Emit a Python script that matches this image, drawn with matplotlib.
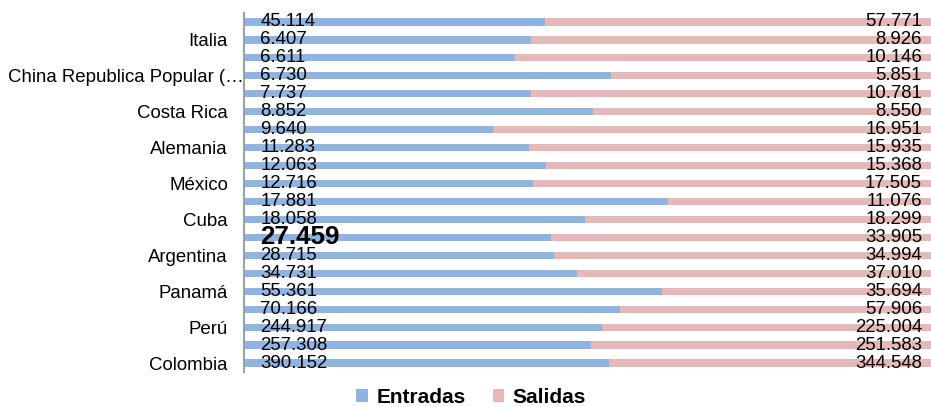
import matplotlib
matplotlib.use('Agg')
import matplotlib.pyplot as plt
from matplotlib.transforms import ScaledTranslation
import numpy as np

plt.rcParams['font.family'] = ['Liberation Sans', 'DejaVu Sans']

# top to bottom; only every other category name is shown in the original
categorias = ['', 'Italia', '', 'China Republica Popular (…', '', 'Costa Rica', '',
              'Alemania', '', 'México', '', 'Cuba', '', 'Argentina', '', 'Panamá',
              '', 'Perú', '', 'Colombia']
entradas = [45114, 6407, 6611, 6730, 7737, 8852, 9640, 11283, 12063, 12716,
            17881, 18058, 27459, 28715, 34731, 55361, 70166, 244917, 257308, 390152]
salidas = [57771, 8926, 10146, 5851, 10781, 8550, 16951, 15935, 15368, 17505,
           11076, 18299, 33905, 34994, 37010, 35694, 57906, 225004, 251583, 344548]
destacado = 27459

azul = '#8EB4E3'
rosa = '#E6B9B8'


def fmt(v):
    return f'{v:,}'.replace(',', '.')


ent = np.array(entradas, dtype=float)
sal = np.array(salidas, dtype=float)
tot = ent + sal
pe = ent / tot
ps = sal / tot
y = np.arange(len(categorias))

fig = plt.figure(figsize=(9.31, 4.07), dpi=100)
ax = fig.add_axes([0.262, 0.086, 0.738, 0.882])

ax.barh(y, pe, height=0.4, color=azul, label='Entradas')
ax.barh(y, ps, left=pe, height=0.4, color=rosa, label='Salidas')

for i in range(len(y)):
    if entradas[i] == destacado:
        ax.text(0.024, y[i], fmt(entradas[i]), ha='left', va='center',
                fontsize=18.7, fontweight='bold')
    else:
        ax.text(0.024, y[i], fmt(entradas[i]), ha='left', va='center', fontsize=13.4)
    ax.text(0.987, y[i], fmt(salidas[i]), ha='right', va='center', fontsize=13.4)

ax.set_xlim(0, 1)
ax.set_ylim(len(y) - 0.5, -0.5)
ax.set_yticks(y)
ax.set_yticklabels(categorias, fontsize=13.4)
ax.tick_params(axis='y', length=0, pad=11.5)
ax.set_xticks([])
for s in ['top', 'right', 'bottom']:
    ax.spines[s].set_visible(False)
ax.spines['left'].set_color('#A0A0A0')
ax.spines['left'].set_linewidth(1.5)

# the truncated long label runs up to the axis line, as in the original
lbl = ax.get_yticklabels()[3]
lbl.set_transform(lbl.get_transform() + ScaledTranslation(0.16, 0, fig.dpi_scale_trans))

fig.legend(loc='center', bbox_to_anchor=(0.506, 0.024), ncol=2, frameon=False,
           handlelength=0.55, handleheight=0.55, handletextpad=0.4,
           columnspacing=1.3, borderpad=0.2, prop={'weight': 'bold', 'size': 15})

fig.savefig('out.png', dpi=100)
